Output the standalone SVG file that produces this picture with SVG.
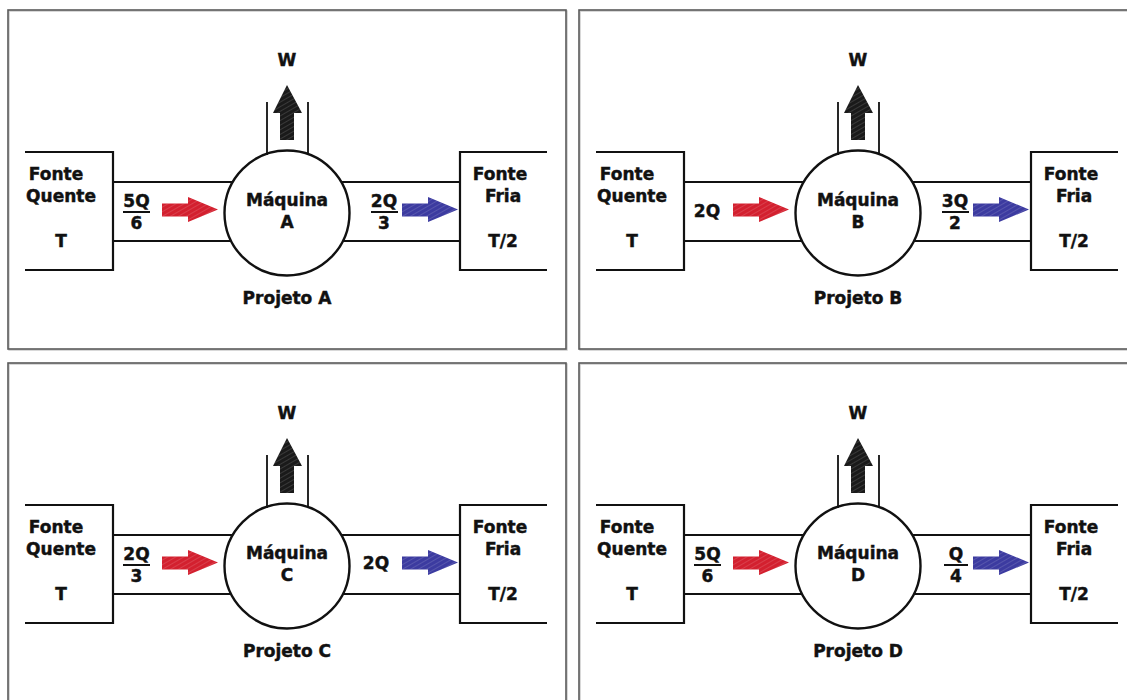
<svg xmlns="http://www.w3.org/2000/svg" width="1127" height="700" viewBox="0 0 1127 700">
<defs>
<style>
.frame{fill:none;stroke:#5a5a5a;stroke-width:1.6}
.shadow{fill:none;stroke:#c8c8c8;stroke-width:1.4}
.ln{fill:none;stroke:#111;stroke-width:2.2}
.wall{fill:none;stroke:#111;stroke-width:1.8}
.circ{fill:#fff;stroke:#111;stroke-width:2.4}
.t{font-family:"DejaVu Sans","Liberation Sans",sans-serif;font-weight:bold;font-size:17px;fill:#111;stroke:#111;stroke-width:0.45;text-anchor:middle}
.bar{stroke:#111;stroke-width:2}
.red{fill:#d3202f}
.blue{fill:#3c3ba0}
.blk{fill:#1a1a1a}
.hatch{fill:url(#hatch)}
</style>
<pattern id="hatch" width="4" height="4" patternUnits="userSpaceOnUse" patternTransform="rotate(60)">
<line x1="0" y1="0" x2="0" y2="4" stroke="#fff" stroke-width="0.8" stroke-opacity="0.35"/>
</pattern>
<path id="redArrow" d="M162,203.5 L188,203.5 L188,197 L218,209.5 L188,222 L188,216.5 L162,216.5 Z"/>
<path id="blueArrow" d="M402,203.5 L428,203.5 L428,197 L458,209.5 L428,222 L428,216.5 L402,216.5 Z"/>
<path id="upArrow" d="M287,85 L302,113 L294,113 L294,140 L280,140 L280,113 L273,113 Z"/>
</defs>
<rect width="1127" height="700" fill="#fff"/>

<!-- Panel A -->
<g id="panelA">
<rect class="shadow" x="9" y="11" width="558" height="339"/>
<rect class="frame" x="8" y="10" width="558" height="339"/>
<g id="hotA"><path class="ln" d="M25,152 H113 V270 H25"/>
<text class="t" x="56" y="180">Fonte</text><text class="t" x="61" y="202">Quente</text><text class="t" x="61" y="247">T</text></g>
<g id="engineA"><circle class="circ" cx="287" cy="213" r="62.5"/>
<text class="t" x="287" y="206">Máquina</text><text class="t" x="287" y="228">A</text></g>
<g id="coldA"><path class="ln" d="M547,152 H460 V270 H547"/>
<text class="t" x="500" y="180">Fonte</text><text class="t" x="503" y="202">Fria</text><text class="t" x="503" y="247">T/2</text></g>
<g id="connA">
<path class="ln" d="M113,182 H233 M113,241 H231 M341,182 H460 M343,241 H460"/>
<path class="wall" d="M267,102 V155 M308,102 V155"/>
<use href="#redArrow" class="red"/><use href="#redArrow" class="hatch"/>
<use href="#blueArrow" class="blue"/><use href="#blueArrow" class="hatch"/>
<use href="#upArrow" class="blk"/><use href="#upArrow" class="hatch"/>
</g>
<text class="t" x="136.5" y="207">5Q</text><line class="bar" x1="123" y1="212" x2="150" y2="212"/><text class="t" x="136.5" y="229">6</text>
<text class="t" x="384" y="207">2Q</text><line class="bar" x1="371" y1="212" x2="398" y2="212"/><text class="t" x="384" y="229">3</text>
<text class="t" x="287" y="66">W</text>
<text class="t" x="287" y="304">Projeto A</text>
</g>

<!-- Panel B -->
<g id="panelB" transform="translate(571,0)">
<rect class="shadow" x="9" y="11" width="570" height="339"/>
<rect class="frame" x="8" y="10" width="570" height="339"/>
<g id="hotB"><path class="ln" d="M25,152 H113 V270 H25"/>
<text class="t" x="56" y="180">Fonte</text><text class="t" x="61" y="202">Quente</text><text class="t" x="61" y="247">T</text></g>
<g id="engineB"><circle class="circ" cx="287" cy="213" r="62.5"/>
<text class="t" x="287" y="206">Máquina</text><text class="t" x="287" y="228">B</text></g>
<g id="coldB"><path class="ln" d="M547,152 H460 V270 H547"/>
<text class="t" x="500" y="180">Fonte</text><text class="t" x="503" y="202">Fria</text><text class="t" x="503" y="247">T/2</text></g>
<g id="connB">
<path class="ln" d="M113,182 H233 M113,241 H231 M341,182 H460 M343,241 H460"/>
<path class="wall" d="M267,102 V155 M308,102 V155"/>
<use href="#redArrow" class="red"/><use href="#redArrow" class="hatch"/>
<use href="#blueArrow" class="blue"/><use href="#blueArrow" class="hatch"/>
<use href="#upArrow" class="blk"/><use href="#upArrow" class="hatch"/>
</g>
<text class="t" x="136" y="217">2Q</text>
<text class="t" x="384" y="207">3Q</text><line class="bar" x1="371" y1="212" x2="398" y2="212"/><text class="t" x="384" y="229">2</text>
<text class="t" x="287" y="66">W</text>
<text class="t" x="287" y="304">Projeto B</text>
</g>

<!-- Panel C -->
<g id="panelC" transform="translate(0,353)">
<rect class="shadow" x="9" y="11" width="558" height="360"/>
<rect class="frame" x="8" y="10" width="558" height="360"/>
<g id="hotC"><path class="ln" d="M25,152 H113 V270 H25"/>
<text class="t" x="56" y="180">Fonte</text><text class="t" x="61" y="202">Quente</text><text class="t" x="61" y="247">T</text></g>
<g id="engineC"><circle class="circ" cx="287" cy="213" r="62.5"/>
<text class="t" x="287" y="206">Máquina</text><text class="t" x="287" y="228">C</text></g>
<g id="coldC"><path class="ln" d="M547,152 H460 V270 H547"/>
<text class="t" x="500" y="180">Fonte</text><text class="t" x="503" y="202">Fria</text><text class="t" x="503" y="247">T/2</text></g>
<g id="connC">
<path class="ln" d="M113,182 H233 M113,241 H231 M341,182 H460 M343,241 H460"/>
<path class="wall" d="M267,102 V155 M308,102 V155"/>
<use href="#redArrow" class="red"/><use href="#redArrow" class="hatch"/>
<use href="#blueArrow" class="blue"/><use href="#blueArrow" class="hatch"/>
<use href="#upArrow" class="blk"/><use href="#upArrow" class="hatch"/>
</g>
<text class="t" x="136.5" y="207">2Q</text><line class="bar" x1="123" y1="212" x2="150" y2="212"/><text class="t" x="136.5" y="229">3</text>
<text class="t" x="376" y="216">2Q</text>
<text class="t" x="287" y="66">W</text>
<text class="t" x="287" y="304">Projeto C</text>
</g>

<!-- Panel D -->
<g id="panelD" transform="translate(571,353)">
<rect class="shadow" x="9" y="11" width="570" height="360"/>
<rect class="frame" x="8" y="10" width="570" height="360"/>
<g id="hotD"><path class="ln" d="M25,152 H113 V270 H25"/>
<text class="t" x="56" y="180">Fonte</text><text class="t" x="61" y="202">Quente</text><text class="t" x="61" y="247">T</text></g>
<g id="engineD"><circle class="circ" cx="287" cy="213" r="62.5"/>
<text class="t" x="287" y="206">Máquina</text><text class="t" x="287" y="228">D</text></g>
<g id="coldD"><path class="ln" d="M547,152 H460 V270 H547"/>
<text class="t" x="500" y="180">Fonte</text><text class="t" x="503" y="202">Fria</text><text class="t" x="503" y="247">T/2</text></g>
<g id="connD">
<path class="ln" d="M113,182 H233 M113,241 H231 M341,182 H460 M343,241 H460"/>
<path class="wall" d="M267,102 V155 M308,102 V155"/>
<use href="#redArrow" class="red"/><use href="#redArrow" class="hatch"/>
<use href="#blueArrow" class="blue"/><use href="#blueArrow" class="hatch"/>
<use href="#upArrow" class="blk"/><use href="#upArrow" class="hatch"/>
</g>
<text class="t" x="136.5" y="207">5Q</text><line class="bar" x1="123" y1="212" x2="150" y2="212"/><text class="t" x="136.5" y="229">6</text>
<text class="t" x="385" y="207">Q</text><line class="bar" x1="373" y1="212" x2="397" y2="212"/><text class="t" x="385" y="229">4</text>
<text class="t" x="287" y="66">W</text>
<text class="t" x="287" y="304">Projeto D</text>
</g>
</svg>
